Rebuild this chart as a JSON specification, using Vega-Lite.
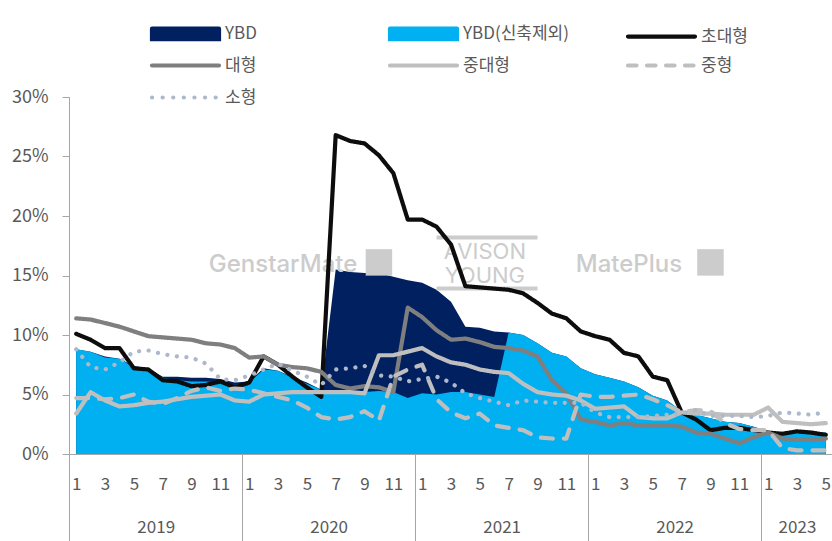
{
  "$schema": "https://vega.github.io/schema/vega-lite/v6.json",
  "width": 764,
  "height": 357,
  "autosize": "none",
  "padding": {"left": 69, "top": 97, "right": 0, "bottom": 87},
  "background": "white",
  "config": {
    "view": {"stroke": null},
    "font": "Noto Sans CJK KR",
    "axis": {"labelFont": "Noto Sans CJK KR", "labelColor": "#595959", "grid": false}
  },
  "datasets": {
    "d": [
      {"m":"2019-01","ybd":8.8,"ybdx":8.8,"xl":10.1,"l":11.4,"ml":3.4,"md":4.7,"sm":8.8},
      {"m":"2019-02","ybd":8.6,"ybdx":8.6,"xl":9.6,"l":11.3,"ml":5.2,"md":4.7,"sm":7.3},
      {"m":"2019-03","ybd":8.2,"ybdx":8.1,"xl":8.9,"l":11.0,"ml":4.5,"md":4.6,"sm":7.1},
      {"m":"2019-04","ybd":8.0,"ybdx":8.0,"xl":8.9,"l":10.7,"ml":4.0,"md":4.7,"sm":7.7},
      {"m":"2019-05","ybd":7.4,"ybdx":7.3,"xl":7.2,"l":10.3,"ml":4.1,"md":5.0,"sm":8.6},
      {"m":"2019-06","ybd":7.2,"ybdx":7.1,"xl":7.1,"l":9.9,"ml":4.3,"md":4.4,"sm":8.7},
      {"m":"2019-07","ybd":6.5,"ybdx":6.4,"xl":6.2,"l":9.8,"ml":4.4,"md":4.2,"sm":8.4},
      {"m":"2019-08","ybd":6.5,"ybdx":6.2,"xl":6.1,"l":9.7,"ml":4.6,"md":4.7,"sm":8.2},
      {"m":"2019-09","ybd":6.4,"ybdx":6.1,"xl":5.7,"l":9.6,"ml":4.8,"md":5.3,"sm":8.1},
      {"m":"2019-10","ybd":6.4,"ybdx":6.1,"xl":5.8,"l":9.3,"ml":4.9,"md":5.6,"sm":7.6},
      {"m":"2019-11","ybd":6.3,"ybdx":6.0,"xl":6.1,"l":9.2,"ml":5.0,"md":5.3,"sm":6.3},
      {"m":"2019-12","ybd":6.0,"ybdx":5.8,"xl":5.6,"l":8.9,"ml":4.5,"md":5.5,"sm":6.2},
      {"m":"2020-01","ybd":6.1,"ybdx":6.0,"xl":6.0,"l":8.1,"ml":4.4,"md":5.4,"sm":6.6},
      {"m":"2020-02","ybd":7.2,"ybdx":7.1,"xl":8.2,"l":8.2,"ml":5.0,"md":5.1,"sm":7.1},
      {"m":"2020-03","ybd":7.0,"ybdx":7.0,"xl":7.5,"l":7.5,"ml":5.1,"md":4.8,"sm":7.6},
      {"m":"2020-04","ybd":6.5,"ybdx":6.4,"xl":6.5,"l":7.3,"ml":5.2,"md":4.5,"sm":7.0},
      {"m":"2020-05","ybd":6.0,"ybdx":5.9,"xl":5.6,"l":7.2,"ml":5.2,"md":3.9,"sm":6.5},
      {"m":"2020-06","ybd":5.4,"ybdx":5.4,"xl":4.8,"l":6.9,"ml":5.2,"md":3.1,"sm":5.8},
      {"m":"2020-07","ybd":15.5,"ybdx":5.2,"xl":26.8,"l":5.8,"ml":5.2,"md":2.9,"sm":7.1},
      {"m":"2020-08","ybd":15.3,"ybdx":5.1,"xl":26.3,"l":5.5,"ml":5.2,"md":3.1,"sm":7.2},
      {"m":"2020-09","ybd":15.2,"ybdx":5.2,"xl":26.1,"l":5.7,"ml":5.1,"md":3.6,"sm":7.4},
      {"m":"2020-10","ybd":15.2,"ybdx":5.3,"xl":25.1,"l":5.6,"ml":8.3,"md":2.8,"sm":6.6},
      {"m":"2020-11","ybd":14.9,"ybdx":5.2,"xl":23.6,"l":5.2,"ml":8.3,"md":6.5,"sm":6.5},
      {"m":"2020-12","ybd":14.6,"ybdx":4.7,"xl":19.7,"l":12.3,"ml":8.6,"md":7.1,"sm":6.1},
      {"m":"2021-01","ybd":14.4,"ybdx":5.1,"xl":19.7,"l":11.5,"ml":8.9,"md":7.5,"sm":6.3},
      {"m":"2021-02","ybd":13.8,"ybdx":5.0,"xl":19.1,"l":10.4,"ml":8.2,"md":4.6,"sm":6.5},
      {"m":"2021-03","ybd":12.8,"ybdx":5.2,"xl":17.6,"l":9.6,"ml":7.7,"md":3.5,"sm":6.0},
      {"m":"2021-04","ybd":10.7,"ybdx":5.2,"xl":14.1,"l":9.7,"ml":7.5,"md":3.0,"sm":5.1},
      {"m":"2021-05","ybd":10.6,"ybdx":5.0,"xl":14.0,"l":9.4,"ml":7.1,"md":3.4,"sm":4.7},
      {"m":"2021-06","ybd":10.3,"ybdx":4.8,"xl":13.9,"l":9.0,"ml":6.9,"md":2.4,"sm":4.4},
      {"m":"2021-07","ybd":10.2,"ybdx":10.2,"xl":13.8,"l":8.9,"ml":6.8,"md":2.2,"sm":4.1},
      {"m":"2021-08","ybd":10.0,"ybdx":10.0,"xl":13.5,"l":8.7,"ml":5.9,"md":2.0,"sm":4.5},
      {"m":"2021-09","ybd":9.3,"ybdx":9.3,"xl":12.7,"l":8.2,"ml":5.2,"md":1.4,"sm":4.4},
      {"m":"2021-10","ybd":8.5,"ybdx":8.5,"xl":11.8,"l":6.2,"ml":5.0,"md":1.3,"sm":4.3},
      {"m":"2021-11","ybd":8.2,"ybdx":8.2,"xl":11.4,"l":5.1,"ml":4.9,"md":1.3,"sm":4.3},
      {"m":"2021-12","ybd":7.2,"ybdx":7.2,"xl":10.3,"l":2.9,"ml":4.5,"md":5.0,"sm":4.3},
      {"m":"2022-01","ybd":6.7,"ybdx":6.7,"xl":9.9,"l":2.7,"ml":3.8,"md":4.8,"sm":3.5},
      {"m":"2022-02","ybd":6.4,"ybdx":6.4,"xl":9.6,"l":2.4,"ml":3.9,"md":4.8,"sm":3.1},
      {"m":"2022-03","ybd":6.1,"ybdx":6.1,"xl":8.5,"l":2.6,"ml":4.0,"md":4.9,"sm":3.1},
      {"m":"2022-04","ybd":5.6,"ybdx":5.6,"xl":8.2,"l":2.4,"ml":3.1,"md":5.0,"sm":3.1},
      {"m":"2022-05","ybd":4.9,"ybdx":4.9,"xl":6.5,"l":2.4,"ml":3.0,"md":4.6,"sm":3.2},
      {"m":"2022-06","ybd":4.5,"ybdx":4.5,"xl":6.2,"l":2.4,"ml":3.0,"md":4.1,"sm":3.3},
      {"m":"2022-07","ybd":3.6,"ybdx":3.6,"xl":3.5,"l":2.3,"ml":3.5,"md":3.5,"sm":3.4},
      {"m":"2022-08","ybd":3.3,"ybdx":3.3,"xl":2.9,"l":1.8,"ml":3.4,"md":3.7,"sm":3.7},
      {"m":"2022-09","ybd":3.0,"ybdx":3.0,"xl":2.0,"l":1.7,"ml":3.4,"md":3.6,"sm":3.2},
      {"m":"2022-10","ybd":2.7,"ybdx":2.7,"xl":2.2,"l":1.3,"ml":3.3,"md":2.6,"sm":3.2},
      {"m":"2022-11","ybd":2.6,"ybdx":2.6,"xl":2.2,"l":0.9,"ml":3.3,"md":2.1,"sm":3.2},
      {"m":"2022-12","ybd":2.3,"ybdx":2.3,"xl":2.0,"l":1.4,"ml":3.3,"md":2.0,"sm":3.1},
      {"m":"2023-01","ybd":1.9,"ybdx":1.9,"xl":1.8,"l":1.8,"ml":3.9,"md":2.0,"sm":3.2},
      {"m":"2023-02","ybd":1.7,"ybdx":1.7,"xl":1.7,"l":1.3,"ml":2.7,"md":0.5,"sm":3.5},
      {"m":"2023-03","ybd":1.7,"ybdx":1.7,"xl":1.9,"l":1.2,"ml":2.6,"md":0.3,"sm":3.4},
      {"m":"2023-04","ybd":1.8,"ybdx":1.8,"xl":1.8,"l":1.2,"ml":2.5,"md":0.3,"sm":3.3},
      {"m":"2023-05","ybd":1.8,"ybdx":1.8,"xl":1.6,"l":1.3,"ml":2.6,"md":0.3,"sm":3.5}
    ]
  },
  "data": {"name": "d"},
  "layer": [
    {
      "transform": [
        {"fold": ["ybd","ybdx","xl","l","ml","md","sm"], "as": ["s","v"]},
        {"filter": "datum.s == 'ybd'"}
      ],
      "mark": {"type": "area", "opacity": 1},
      "encoding": {
        "x": {"field": "m", "type": "ordinal", "scale": {"type": "point", "padding": 0.5},
          "axis": {"title": null, "orient": "bottom", "ticks": false, "domain": true, "domainColor": "#a6a6a6", "domainWidth": 1,
            "labelAngle": 0, "labelPadding": 22, "labelFontSize": 17,
            "labelExpr": "toNumber(substring(datum.value,5,7)) % 2 == 1 ? '' + toNumber(substring(datum.value,5,7)) : ''"}},
        "y": {"field": "v", "type": "quantitative", "stack": null, "scale": {"domain": [0, 30], "nice": false},
          "axis": {"title": null, "orient": "left", "values": [0,5,10,15,20,25,30], "labelExpr": "datum.value + '%'", "domainColor": "#a6a6a6", "tickColor": "#a6a6a6", "tickSize": 7, "labelPadding": 14, "labelFontSize": 18}},
        "color": {"field": "s", "type": "nominal",
          "scale": {"domain": ["ybd","ybdx","xl","l","ml","md","sm"], "range": ["#002060","#00b0f0","#0d0d0d","#7f7f7f","#bfbfbf","#bfbfbf","#adb9ca"]},
          "legend": null}
      }
    },
    {
      "transform": [
        {"fold": ["ybd","ybdx","xl","l","ml","md","sm"], "as": ["s","v"]},
        {"filter": "datum.s == 'ybdx'"}
      ],
      "mark": {"type": "area", "opacity": 1},
      "encoding": {
        "x": {"field": "m", "type": "ordinal", "scale": {"type": "point", "padding": 0.5},
          "axis": {"title": null, "orient": "bottom", "ticks": false, "domain": false, "labelAngle": 0, "labelPadding": 65, "labelFontSize": 17,
            "values": ["2019-07","2020-07","2021-07","2022-07","2023-03"],
            "labelExpr": "substring(datum.value,0,4)",
            "labelOffset": {"condition": {"test": "datum.value == '2023-03'", "value": 0}, "value": -7}}},
        "y": {"field": "v", "type": "quantitative", "stack": null},
        "color": {"field": "s", "type": "nominal", "legend": null}
      }
    },
    {
      "data": {"values": [{"m": "2020-03", "v": 15.9, "t": "GenstarMate"}, {"m": "2022-03", "v": 15.9, "t": "MatePlus"}]},
      "mark": {"type": "text", "font": "Inter", "fontWeight": 500, "fontSize": 24, "color": "#cccccc", "dx": 5, "baseline": "middle"},
      "encoding": {
        "x": {"field": "m", "type": "ordinal", "axis": null},
        "y": {"field": "v", "type": "quantitative"},
        "text": {"field": "t"}
      }
    },
    {
      "data": {"values": [{"m": "2021-05", "v": 17.0, "t": "AVISON"}, {"m": "2021-05", "v": 15.0, "t": "YOUNG"}]},
      "mark": {"type": "text", "font": "Inter", "fontWeight": 400, "fontSize": 22, "color": "#cccccc", "dx": 5, "baseline": "middle", "letterSpacing": 1},
      "encoding": {
        "x": {"field": "m", "type": "ordinal", "axis": null},
        "y": {"field": "v", "type": "quantitative"},
        "text": {"field": "t"}
      }
    },
    {
      "data": {"values": [{"a": "2021-02", "b": "2021-09", "v": 18.2}, {"a": "2021-02", "b": "2021-09", "v": 13.9}]},
      "mark": {"type": "rule", "color": "#cccccc", "strokeWidth": 4},
      "encoding": {
        "x": {"field": "a", "type": "ordinal", "axis": null},
        "x2": {"field": "b"},
        "y": {"field": "v", "type": "quantitative"}
      }
    },
    {
      "data": {"values": [{"m": "2020-10", "v": 16.1}, {"m": "2022-09", "v": 16.1}]},
      "mark": {"type": "point", "shape": "square", "size": 700, "filled": true, "color": "#cccccc", "opacity": 1},
      "encoding": {
        "x": {"field": "m", "type": "ordinal", "axis": null},
        "y": {"field": "v", "type": "quantitative"}
      }
    },
    {
      "transform": [
        {"fold": ["ybd","ybdx","xl","l","ml","md","sm"], "as": ["s","v"]},
        {"filter": "datum.s != 'ybd' && datum.s != 'ybdx'"}
      ],
      "mark": {"type": "line", "strokeWidth": 4.2, "strokeCap": "round", "strokeJoin": "round"},
      "encoding": {
        "x": {"field": "m", "type": "ordinal", "scale": {"type": "point", "padding": 0.5},
          "axis": {"title": null, "orient": "bottom", "labels": false, "domain": false, "ticks": true,
            "values": ["2019-01","2020-01","2021-01","2022-01","2023-01"],
            "tickOffset": -7.2, "tickSize": 88, "tickColor": "#a6a6a6", "tickWidth": 1}},
        "y": {"field": "v", "type": "quantitative"},
        "color": {"field": "s", "type": "nominal",
          "legend": {
            "title": null, "orient": "none", "legendX": 79, "legendY": -72,
            "direction": "horizontal", "columns": 3, "gridAlign": "all",
            "columnPadding": 50, "rowPadding": 8, "padding": 0,
            "symbolSize": 100, "symbolOffset": 29, "symbolStrokeWidth": 4.2,
            "labelOffset": 31, "labelFontSize": 17, "labelColor": "#595959", "labelFont": "Noto Sans CJK KR", "labelLimit": 300,
            "values": ["ybd","ybdx","xl","l","ml","md","sm"],
            "labelExpr": "datum.value=='ybd'?'YBD':datum.value=='ybdx'?'YBD(신축제외)':datum.value=='xl'?'초대형':datum.value=='l'?'대형':datum.value=='ml'?'중대형':datum.value=='md'?'중형':'소형'",
            "encode": {
              "symbols": {
                "update": {
                  "shape": {"signal": "(datum.value=='ybd'||datum.value=='ybdx') ? 'M-6.7,-1.05H6.7V1.05H-6.7Z' : 'M-6.7,0H6.7'"},
                  "fill": {"signal": "datum.value=='ybd' ? '#002060' : datum.value=='ybdx' ? '#00b0f0' : 'transparent'"},
                  "fillOpacity": {"value": 1},
                  "stroke": {"signal": "datum.value=='xl' ? '#0d0d0d' : datum.value=='l' ? '#7f7f7f' : datum.value=='sm' ? '#adb9ca' : (datum.value=='ml'||datum.value=='md') ? '#bfbfbf' : 'transparent'"},
                  "strokeWidth": {"value": 4.2},
                  "strokeCap": {"value": "round"},
                  "strokeDash": {"signal": "datum.value=='md' ? [8.5,10.5] : datum.value=='sm' ? [0.1,10.5] : [1,0]"},
                  "size": {"value": 100},
                  "opacity": {"value": 1}
                }
              }
            }
          }},
        "strokeDash": {"field": "s", "type": "nominal",
          "scale": {"domain": ["xl","l","ml","md","sm"], "range": [[1,0],[1,0],[1,0],[12,11],[0.1,9.5]]},
          "legend": null}
      }
    }
  ],
  "resolve": {"axis": {"x": "independent"}, "legend": {"color": "independent"}}
}
